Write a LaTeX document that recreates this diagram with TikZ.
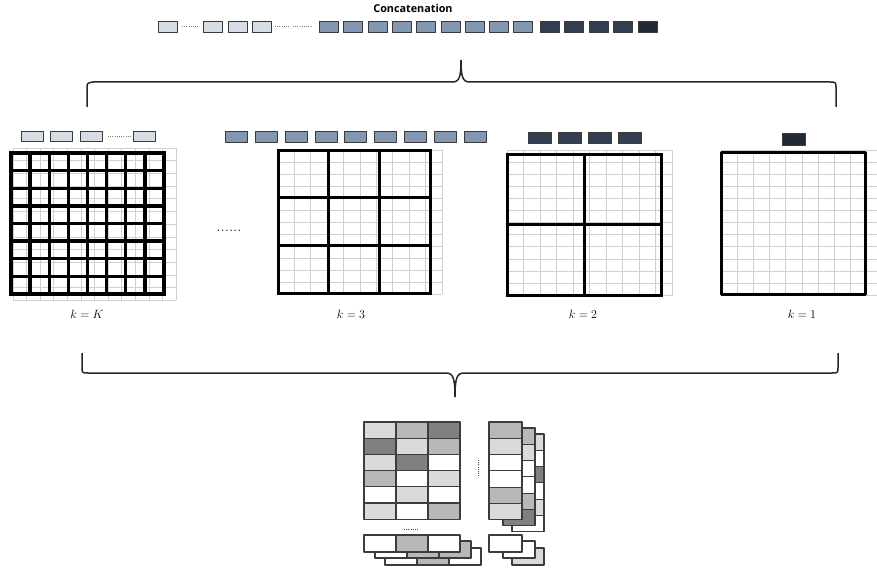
\documentclass[tikz,border=0pt]{standalone}
\usepackage{fontspec}
\newfontfamily\titlefont{Open Sans}
\definecolor{tokL}{HTML}{D6DCE4}
\definecolor{tokM}{HTML}{8497B0}
\definecolor{tokD}{HTML}{333F50}
\definecolor{tokX}{HTML}{222A35}
\definecolor{tokB}{HTML}{3A3A3A}
\definecolor{lgrid}{HTML}{D0D0D0}
\definecolor{cL}{HTML}{DADADA}
\definecolor{cM}{HTML}{B8B8B8}
\definecolor{cD}{HTML}{808080}
\definecolor{cW}{HTML}{FFFFFF}
\definecolor{cellB}{HTML}{3C3C3C}
\begin{document}
\begin{tikzpicture}[x=1pt,y=-1pt,line join=round,
  tok/.style={draw=tokB,line width=0.9pt},
  thk/.style={draw=black,line width=3pt,line cap=rect},
  lg/.style={draw=lgrid,line width=0.7pt},
  tinydots/.style={draw=gray,line width=0.7pt,dash pattern=on 0.8pt off 1.4pt},
  bracestyle/.style={draw=black!85,line width=1.5pt},
  cell/.style={draw=cellB,line width=1.1pt},
  lab/.style={font=\fontsize{13}{15}\selectfont}]
\useasboundingbox (0,0) rectangle (877,575);

% ---------- title and concatenated tokens ----------
\node[font=\titlefont\bfseries\fontsize{10.8}{12}\selectfont] (title) at (413,8) {Concatenation};
\foreach \x in {158,203,228,252}
  \draw[tok,fill=tokL] (\x,21) rectangle ++(19,11);
\foreach \x in {319,343,368,392,416,441,465,489,513}
  \draw[tok,fill=tokM] (\x,21) rectangle ++(19,11);
\foreach \x in {540,564,589,613}
  \draw[tok,fill=tokD] (\x,21) rectangle ++(19,11);
\draw[tok,fill=tokX] (638,21) rectangle ++(19,11);
\draw[tinydots] (182,26.5) -- (198,26.5);
\draw[tinydots] (275,26.5) -- (290,26.5);
\draw[tinydots] (293,26.5) -- (312,26.5);

% ---------- top brace ----------
\draw[bracestyle] (87,107) -- (87,89) .. controls (87,83) .. (93,82) -- (452,82)
   .. controls (459,82) and (461,78) .. (461,60);
\draw[bracestyle] (461,60) .. controls (461,78) and (463,82) .. (470,82) -- (830,82)
   .. controls (836,82) .. (836,89) -- (836,107);

% ---------- panel k = K ----------
\foreach \x in {21,50,80,133}
  \draw[tok,fill=tokL] (\x,131) rectangle ++(22,10);
\draw[tinydots] (108,136) -- (132,136);
\foreach \i in {0,...,12} \draw[lg] ({13+\i*13.6},148) -- ++(0,152);
\foreach \j in {0,...,12} \draw[lg] (13,{148+\j*12.7}) -- ++(163,0);
\foreach \i in {0,...,8} \draw[thk,line width=3.4pt] ({11+\i*19.125},153) -- ++(0,141);
\foreach \j in {0,...,8} \draw[thk,line width=3.4pt] (11,{153+\j*17.625}) -- ++(153,0);
\node[lab] (lK) at (87,314) {$k=K$};

% ---------- dots between panels ----------
\node[font=\fontsize{16.8}{18}\selectfont,anchor=base] (between) at (229,231) {......};

% ---------- panel k = 3 ----------
\foreach \x in {225,255,285,315,344,374,404,434,464}
  \draw[tok,fill=tokM] (\x,131) rectangle ++(22,11);
\foreach \i in {0,...,10} \draw[lg] ({278+\i*16.4},150) -- ++(0,144);
\foreach \j in {0,...,12} \draw[lg] (278,{150+\j*12}) -- ++(164,0);
\foreach \i in {0,...,3} \draw[thk] ({278+\i*50.667},150) -- ++(0,143);
\foreach \j in {0,...,3} \draw[thk] (278,{150+\j*47.667}) -- ++(152,0);
\node[lab] (l3) at (351,314) {$k=3$};

% ---------- panel k = 2 ----------
\foreach \x in {528,558,588,618}
  \draw[tok,fill=tokD] (\x,132) rectangle ++(23,11);
\foreach \i in {0,...,10} \draw[lg] ({507+\i*16.5},150) -- ++(0,146);
\foreach \j in {0,...,12} \draw[lg] (507,{150+\j*12.1}) -- ++(165,0);
\foreach \i in {0,...,2} \draw[thk] ({507+\i*77},154) -- ++(0,141);
\foreach \j in {0,...,2} \draw[thk] (507,{154+\j*70.5}) -- ++(154,0);
\node[lab] (l2) at (583,314) {$k=2$};

% ---------- panel k = 1 ----------
\draw[tok,fill=tokX] (782,133) rectangle ++(23,12);
\foreach \i in {0,...,9} \draw[lg] ({721+\i*16.2},150) -- ++(0,146);
\foreach \j in {0,...,12} \draw[lg] (721,{150+\j*12.1}) -- ++(156,0);
\draw[thk] (721,152) rectangle (865,294);
\node[lab] (l1) at (802,314) {$k=1$};

% ---------- bottom brace ----------
\draw[bracestyle] (82,353) -- (82,367) .. controls (82,373) .. (88,373) -- (446,373)
   .. controls (453,373) and (455,378) .. (455,397);
\draw[bracestyle] (455,397) .. controls (455,378) and (457,373) .. (464,373) -- (832,373)
   .. controls (838,373) .. (838,367) -- (838,353);

% ---------- bottom: table ----------
\foreach \r/\a/\b/\c in {0/L/M/D,1/D/L/M,2/L/D/W,3/M/W/L,4/W/L/W,5/L/W/M}{
  \draw[cell,fill=c\a] (364,{422+\r*16.2}) rectangle ++(32,16.2);
  \draw[cell,fill=c\b] (396,{422+\r*16.2}) rectangle ++(32,16.2);
  \draw[cell,fill=c\c] (428,{422+\r*16.2}) rectangle ++(32,16.2);
}
\draw[tinydots,draw=black!70] (404,529) -- (418,529);
\draw[tinydots,draw=black!70] (478,460) -- (478,477);

% bottom-left stacked rows (back to front)
\foreach \a/\n in {W/0,M/1,W/2}
  \draw[cell,fill=c\a] ({385+\n*32},548) rectangle ++(32,17);
\foreach \a/\n in {W/0,M/1,M/2}
  \draw[cell,fill=c\a] ({375+\n*32},541) rectangle ++(32,17);
\foreach \a/\n in {W/0,M/1,W/2}
  \draw[cell,fill=c\a] ({364+\n*32},535) rectangle ++(32,17);

% right stacked columns (back to front)
\foreach \a/\r in {L/0,W/1,D/2,W/3,L/4,W/5}
  \draw[cell,fill=c\a] (512,{434+\r*16.3}) rectangle ++(32,16.3);
\foreach \a/\r in {M/0,L/1,W/2,W/3,M/4,D/5}
  \draw[cell,fill=c\a] (503,{428+\r*16.3}) rectangle ++(32,16.3);
\foreach \a/\r in {M/0,L/1,W/2,W/3,M/4,L/5}
  \draw[cell,fill=c\a] (489,{422+\r*16.3}) rectangle ++(33,16.3);

% bottom-right stacked cells
\draw[cell,fill=cL] (512,548) rectangle ++(32,17);
\draw[cell,fill=cW] (503,541) rectangle ++(32,17);
\draw[cell,fill=cW] (489,535) rectangle ++(33,17);
\end{tikzpicture}
\end{document}
